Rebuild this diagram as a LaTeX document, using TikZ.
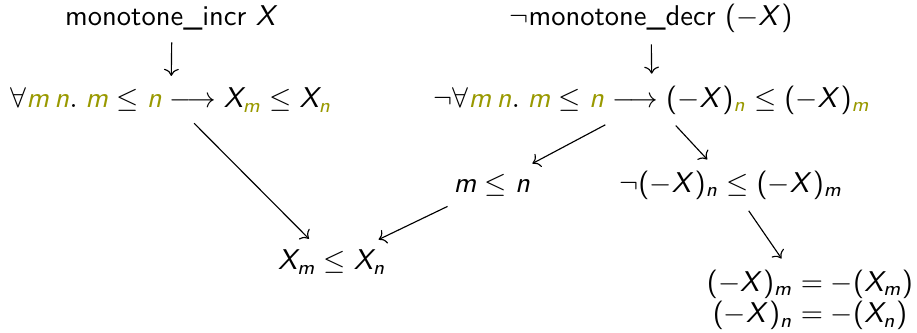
\documentclass[tikz,border=0pt]{standalone}
\usepackage{amsmath,amssymb}
\usepackage{xcolor}
\usetikzlibrary{arrows.meta}
\DeclareSymbolFont{sfletters}{OT1}{cmss}{m}{sl}
\DeclareSymbolFont{sfupright}{OT1}{cmss}{m}{n}
\DeclareMathSymbol{m}{\mathalpha}{sfletters}{`m}
\DeclareMathSymbol{n}{\mathalpha}{sfletters}{`n}
\DeclareMathSymbol{X}{\mathalpha}{sfletters}{`X}
\DeclareMathSymbol{(}{\mathopen}{sfupright}{`(}
\DeclareMathSymbol{)}{\mathclose}{sfupright}{`)}
\definecolor{varolive}{rgb}{0.6,0.6,0}
\newcommand{\bv}[1]{\textcolor{varolive}{#1}}
\tikzset{
  formula/.style={font=\sffamily, align=center, inner sep=3pt},
  edge/.style={-To, line width=0.4pt, shorten <=1pt, shorten >=1pt}
}
\begin{document}
\begin{tikzpicture}[x=0.35pt, y=-0.35pt]
  \useasboundingbox (0,0) rectangle (917,332);
  % left branch
  \node[formula] (incr) at (172,18) {monotone\_incr $X$};
  \node[formula] (allL) at (171,100) {$\forall \bv{m}\,\bv{n}.\; \bv{m} \le \bv{n} \longrightarrow X_{\bv{m}} \le X_{\bv{n}}$};
  % right branch
  \node[formula] (decr) at (651,18) {$\neg$monotone\_decr $(-X)$};
  \node[formula] (allR) at (652,100) {$\neg\forall \bv{m}\,\bv{n}.\; \bv{m} \le \bv{n} \longrightarrow (-X)_{\bv{n}} \le (-X)_{\bv{m}}$};
  \node[formula] (mlen) at (492,185) {$m \le n$};
  \node[formula] (negX) at (731,185) {$\neg(-X)_n \le (-X)_m$};
  \node[formula] (goal) at (332,262) {$X_m \le X_n$};
  \node[formula] (negeq) at (810,300) {$(-X)_m = -(X_m)$\\[-1pt]$(-X)_n = -(X_n)$};
  % connectors
  \draw[edge] (incr) -- (allL);
  \draw[edge] (decr) -- (allR);
  \draw[edge] (allL) -- (goal);
  \draw[edge] (allR) -- (mlen);
  \draw[edge] (allR) -- (negX);
  \draw[edge] (mlen) -- (goal);
  \draw[edge] (negX) -- (negeq);
\end{tikzpicture}
\end{document}
